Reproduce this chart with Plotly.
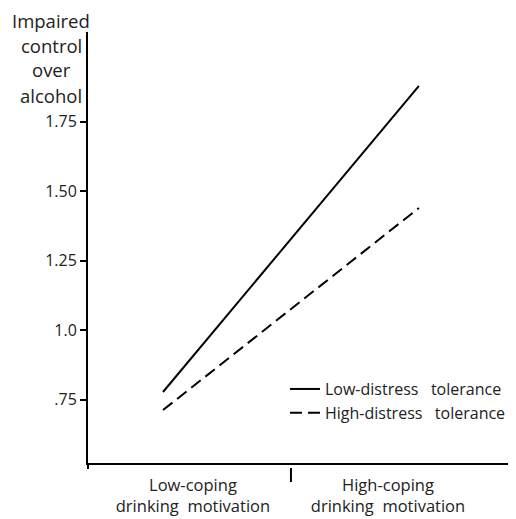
import plotly.graph_objects as go

# Data
x_positions = [0, 1]  # low-coping, high-coping drinking motivation
low_distress = [0.777, 1.878]
high_distress = [0.712, 1.439]
series_names = ["Low-distress\u00a0\u00a0\u00a0tolerance", "High-distress\u00a0\u00a0\u00a0tolerance"]
category_labels = ["Low-coping<br>drinking\u00a0\u00a0motivation", "High-coping<br>drinking\u00a0\u00a0motivation"]
category_pos = [0.117, 0.879]
y_tickvals = [0.75, 1.0, 1.25, 1.5, 1.75]
y_ticktext = [".75", "1.0", "1.25", "1.50", "1.75"]
y_title_lines = ["Impaired", "control", "over", "alcohol"]

FONT = "Open Sans"
TXT = "#222222"
PLOT_W, PLOT_H = 420, 431

fig = go.Figure()
fig.add_trace(go.Scatter(x=x_positions, y=low_distress, mode="lines", name=series_names[0],
                         line=dict(color="black", width=2)))
fig.add_trace(go.Scatter(x=x_positions, y=high_distress, mode="lines", name=series_names[1],
                         line=dict(color="black", width=2, dash="12px,6px")))

fig.update_layout(
    width=508, height=511,
    margin=dict(l=80, r=8, t=24, b=56, pad=0, autoexpand=False),
    paper_bgcolor="white", plot_bgcolor="white",
    font=dict(family=FONT, size=16, color=TXT),
    showlegend=True,
    legend=dict(x=0.469, y=0.211, xanchor="left", yanchor="top",
                bgcolor="rgba(0,0,0,0)", font=dict(size=16, color=TXT),
                tracegroupgap=0),
    xaxis=dict(range=[-0.293, 1.348], showgrid=False, zeroline=False, automargin=False,
               showline=True, linecolor="black", linewidth=2,
               tickmode="array", tickvals=category_pos, ticktext=category_labels,
               ticks="", ticklabelstandoff=6, tickfont=dict(size=16.5, color=TXT)),
    yaxis=dict(range=[0.5216, 2.072], showgrid=False, zeroline=False, automargin=False,
               showline=True, linecolor="black", linewidth=2,
               tickmode="array", tickvals=y_tickvals, ticktext=y_ticktext,
               ticks="outside", ticklen=6, tickwidth=1.5, tickcolor="black",
               tickfont=dict(size=16, color=TXT)),
)

# middle tick on x axis (between the two categories)
fig.add_shape(type="line", xref="x", yref="paper", x0=0.5, x1=0.5,
              y0=-5 / PLOT_H, y1=-19 / PLOT_H, line=dict(color="black", width=2))
# small extension of the y axis line below the x axis
fig.add_shape(type="line", xref="paper", yref="paper", x0=0, x1=0,
              y0=0, y1=-6 / PLOT_H, line=dict(color="black", width=2))

# y-axis title as stacked lines
for i, t in enumerate(y_title_lines):
    fig.add_annotation(text=t, xref="paper", yref="paper", x=(51 - 88) / PLOT_W,
                       y=1 + (32 - 20 - 25 * i) / PLOT_H,
                       xanchor="center", yanchor="middle", showarrow=False,
                       font=dict(size=18.5, color=TXT, family=FONT))

fig.write_html("out.html")
